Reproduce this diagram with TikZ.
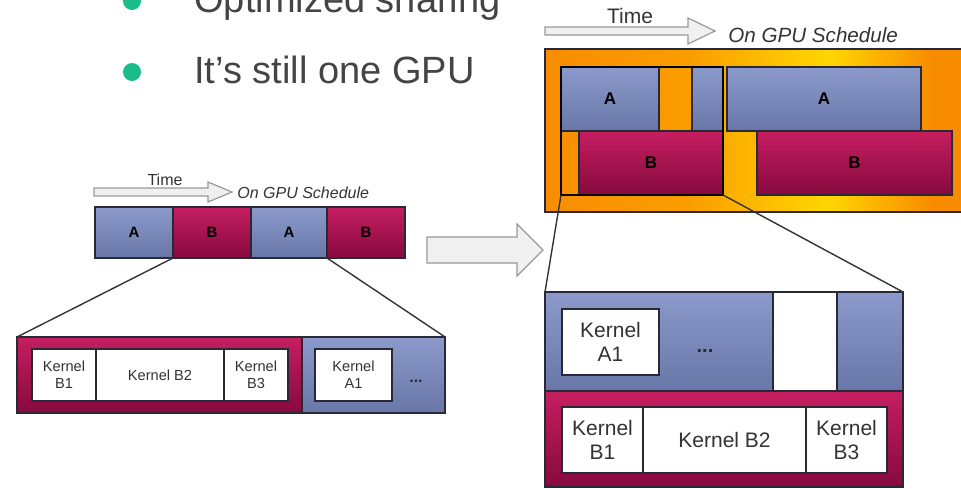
\documentclass[tikz,border=0pt]{standalone}
\usepackage{fontspec}
\setmainfont{Liberation Sans}
\usepackage{tikz}
\usetikzlibrary{positioning}
\definecolor{bulletgreen}{RGB}{26,188,140}
\definecolor{slidetext}{RGB}{68,68,68}
\definecolor{ablue}{RGB}{140,154,203}
\definecolor{abluedark}{RGB}{104,119,168}
\definecolor{bred}{RGB}{198,30,96}
\definecolor{breddark}{RGB}{134,10,62}
\definecolor{gorange}{RGB}{248,140,0}
\definecolor{gyellow}{RGB}{255,214,0}
\definecolor{edge}{RGB}{40,40,55}
\pgfdeclarehorizontalshading{glow}{100bp}{color(0bp)=(gorange); color(25bp)=(gorange);
  color(42bp)=(gorange!75!gyellow); color(58bp)=(gyellow); color(70bp)=(gorange); color(100bp)=(gorange)}

\begin{document}
\begin{tikzpicture}[x=0.5pt, y=-0.5pt,
    blk/.style={draw=edge, line width=0.6pt, inner sep=0pt, outer sep=0pt, anchor=north west},
    ablk/.style={blk, top color=ablue, bottom color=abluedark, font=\bfseries\color{edge}},
    bblk/.style={blk, top color=bred, bottom color=breddark, font=\bfseries\color{breddark!40!black}},
    kbox/.style={blk, fill=white, align=center, text=black!80},
    hollow/.style={draw=gray!80, fill=gray!12, line width=0.6pt, line join=miter},
    zoomline/.style={draw=black!80, line width=0.7pt},
    bullet/.style={circle, fill=bulletgreen, minimum size=9pt, inner sep=0pt},
    item/.style={anchor=base west, inner sep=0pt, text=slidetext, font=\fontsize{19}{22}\selectfont},
]
    \useasboundingbox (0,0) rectangle (961,488);
    \clip (0,0) rectangle (961,488);

    \node[bullet] (b1) at (132,1) {};
    \node[item] (i1) at (194,12) {Optimized sharing};
    \node[bullet] (b2) at (132,72) {};
    \node[item] (i2) at (194,83) {It’s still one GPU};

    % left: time sliced
    \draw[hollow] (94,188) -- (208,188) -- (208,182) -- (232,192) -- (208,202) -- (208,196) -- (94,196) -- cycle;
    \node[font=\fontsize{8}{9}\selectfont, text=black!80] (tL) at (165,180) {Time};
    \node[anchor=west, inner sep=0pt, font=\fontsize{8}{9}\selectfont\itshape, text=black!80] (sL) at (237,193) {On GPU Schedule};

    \node[ablk, minimum width=39pt, minimum height=25.5pt, font=\fontsize{7.5}{9}\selectfont\bfseries] (s1) at (95,207) {A};
    \node[bblk, minimum width=39pt, minimum height=25.5pt, font=\fontsize{7.5}{9}\selectfont\bfseries, right=0pt of s1] (s2) {B};
    \node[ablk, minimum width=38pt, minimum height=25.5pt, font=\fontsize{7.5}{9}\selectfont\bfseries, right=0pt of s2] (s3) {A};
    \node[bblk, minimum width=39pt, minimum height=25.5pt, font=\fontsize{7.5}{9}\selectfont\bfseries, right=0pt of s3] (s4) {B};

    \node[bblk, minimum width=142.5pt, minimum height=38pt] (lowB) at (17,337) {};
    \node[ablk, minimum width=71.5pt, minimum height=38pt, right=0pt of lowB] (lowA) {};
    \node[kbox, minimum width=32pt, minimum height=26pt, font=\fontsize{7.3}{8.6}\selectfont] (kb1) at (32,349) {Kernel\\B1};
    \node[kbox, minimum width=64pt, minimum height=26pt, font=\fontsize{7.3}{8.6}\selectfont, right=0pt of kb1] (kb2) {Kernel B2};
    \node[kbox, minimum width=32pt, minimum height=26pt, font=\fontsize{7.3}{8.6}\selectfont, right=0pt of kb2] (kb3) {Kernel\\B3};
    \node[kbox, minimum width=38.5pt, minimum height=26pt, font=\fontsize{7.3}{8.6}\selectfont] (ka1) at (315,349) {Kernel\\A1};
    \node[font=\fontsize{8}{9}\selectfont\bfseries, text=edge] (dotsL) at (416,381) {...};

    \draw[zoomline] (s2.south west) -- (lowB.north west);
    \draw[zoomline] (s4.south west) -- (lowA.north east);

    % middle arrow
    \draw[hollow] (427,237) -- (517,237) -- (517,224) -- (543,250) -- (517,276) -- (517,263) -- (427,263) -- cycle;

    % right: concurrent
    \draw[hollow] (545,27) -- (688,27) -- (688,18) -- (715,31) -- (688,44) -- (688,35) -- (545,35) -- cycle;
    \node[font=\fontsize{10.5}{12}\selectfont, text=black!80] (tR) at (630,16) {Time};
    \node[anchor=west, inner sep=0pt, font=\fontsize{10.3}{12}\selectfont\itshape, text=black!80] (sR) at (728,35) {On GPU Schedule};

    \node[blk, shading=glow, minimum width=215pt, minimum height=81.5pt] (gpu) at (545,49) {};
    \node[ablk, minimum width=49pt, minimum height=32pt, font=\fontsize{8.5}{10}\selectfont\bfseries] (ra1) at (561,67) {A};
    \node[ablk, minimum width=15.5pt, minimum height=32pt] (ra2) at (692,67) {};
    \node[ablk, minimum width=97pt, minimum height=32pt, font=\fontsize{8.5}{10}\selectfont\bfseries] (ra3) at (727,67) {A};
    \node[bblk, minimum width=72pt, minimum height=32pt, font=\fontsize{8.5}{10}\selectfont\bfseries] (rb1) at (579,131) {B};
    \node[bblk, minimum width=97.5pt, minimum height=32pt, font=\fontsize{8.5}{10}\selectfont\bfseries] (rb2) at (757,131) {B};
    \node[blk, draw=black, line width=1.2pt, minimum width=81pt, minimum height=64pt] (zoomR) at (561,67) {};

    \node[ablk, minimum width=179pt, minimum height=49.5pt] (lowRA) at (545,292) {};
    \node[blk, fill=white, minimum width=32pt, minimum height=49.5pt] (gapR) at (773,292) {};
    \node[bblk, minimum width=179pt, minimum height=48pt] (lowRB) at (545,391) {};
    \node[kbox, minimum width=48.5pt, minimum height=33pt, font=\fontsize{10.5}{12}\selectfont] (rka1) at (562,309) {Kernel\\A1};
    \node[font=\fontsize{10}{12}\selectfont\bfseries, text=edge] (dotsR) at (705,351) {...};
    \node[kbox, minimum width=40.5pt, minimum height=33pt, font=\fontsize{10.5}{12}\selectfont] (rkb1) at (562,407) {Kernel\\B1};
    \node[kbox, minimum width=81.5pt, minimum height=33pt, font=\fontsize{10.5}{12}\selectfont, right=0pt of rkb1] (rkb2) {Kernel B2};
    \node[kbox, minimum width=40.5pt, minimum height=33pt, font=\fontsize{10.5}{12}\selectfont, right=0pt of rkb2] (rkb3) {Kernel\\B3};

    \draw[zoomline] (zoomR.south west) -- (lowRA.north west);
    \draw[zoomline] (zoomR.south east) -- (lowRA.north east);
\end{tikzpicture}
\end{document}
